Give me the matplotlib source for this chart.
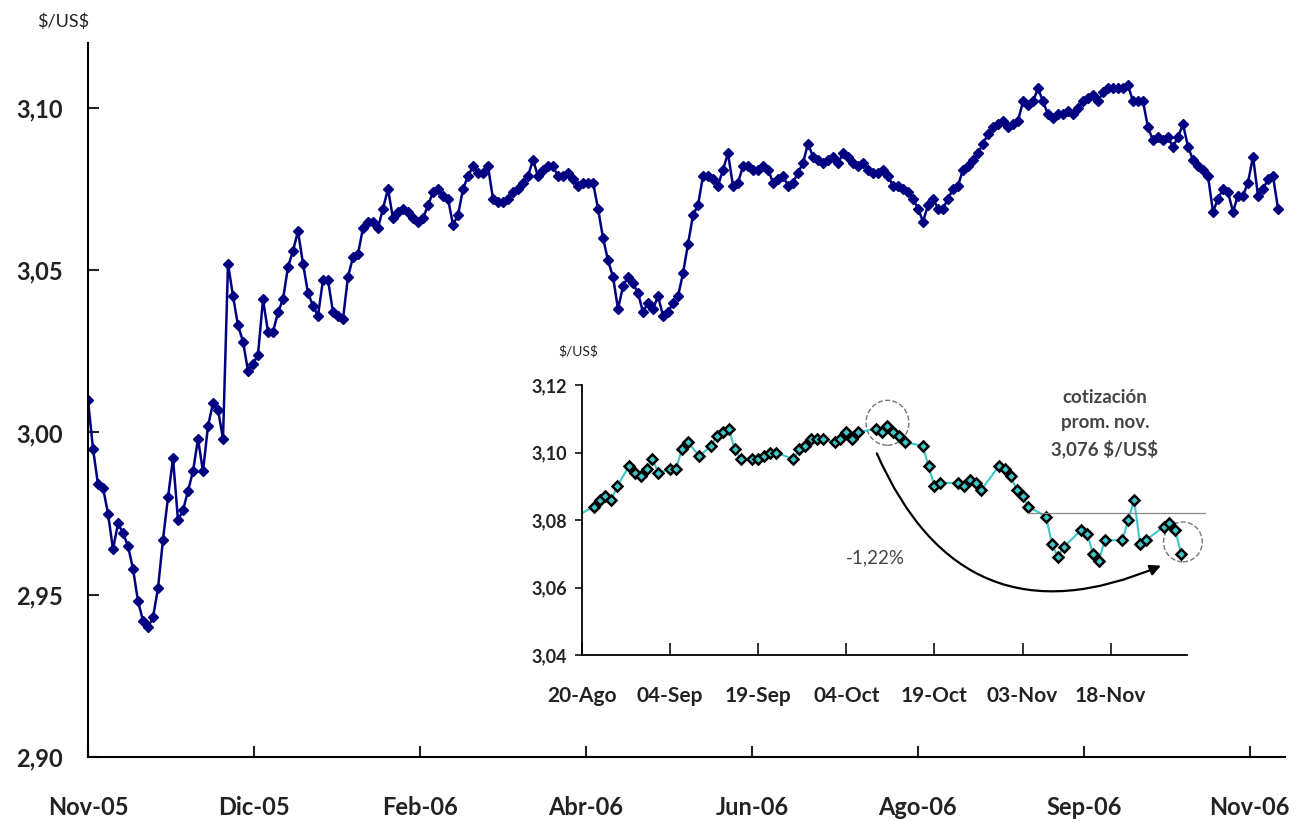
import numpy as np
import matplotlib
matplotlib.use("Agg")
from matplotlib import pyplot as plt
from matplotlib.patches import Ellipse
from matplotlib.ticker import FuncFormatter

plt.rcParams['font.family'] = ['Lato', 'DejaVu Sans']

# tipo de cambio diario, nov-05 a nov-06 ($/US$)
tc_diario = [
    3.010, 2.995, 2.984, 2.983, 2.975, 2.964, 2.972, 2.969, 2.965, 2.958,
    2.948, 2.942, 2.940, 2.943, 2.952, 2.967, 2.980, 2.992, 2.973, 2.976,
    2.982, 2.988, 2.998, 2.988, 3.002, 3.009, 3.007, 2.998, 3.052, 3.042,
    3.033, 3.028, 3.019, 3.021, 3.024, 3.041, 3.031, 3.031, 3.037, 3.041,
    3.051, 3.056, 3.062, 3.052, 3.043, 3.039, 3.036, 3.047, 3.047, 3.037,
    3.036, 3.035, 3.048, 3.054, 3.055, 3.063, 3.065, 3.065, 3.063, 3.069,
    3.075, 3.066, 3.068, 3.069, 3.068, 3.066, 3.065, 3.066, 3.070, 3.074,
    3.075, 3.073, 3.072, 3.064, 3.067, 3.075, 3.079, 3.082, 3.080, 3.080,
    3.082, 3.072, 3.071, 3.071, 3.072, 3.074, 3.075, 3.077, 3.079, 3.084,
    3.079, 3.081, 3.082, 3.082, 3.079, 3.079, 3.080, 3.078, 3.076, 3.077,
    3.077, 3.077, 3.069, 3.060, 3.053, 3.048, 3.038, 3.045, 3.048, 3.046,
    3.043, 3.037, 3.040, 3.038, 3.042, 3.036, 3.037, 3.040, 3.042, 3.049,
    3.058, 3.067, 3.070, 3.079, 3.079, 3.078, 3.076, 3.081, 3.086, 3.076,
    3.077, 3.082, 3.082, 3.081, 3.081, 3.082, 3.081, 3.077, 3.078, 3.079,
    3.076, 3.077, 3.080, 3.083, 3.089, 3.085, 3.084, 3.083, 3.084, 3.085,
    3.083, 3.086, 3.085, 3.083, 3.082, 3.083, 3.081, 3.080, 3.080, 3.081,
    3.079, 3.076, 3.076, 3.075, 3.074, 3.072, 3.069, 3.065, 3.070, 3.072,
    3.069, 3.069, 3.072, 3.075, 3.076, 3.081, 3.082, 3.084, 3.086, 3.089,
    3.092, 3.094, 3.095, 3.096, 3.094, 3.095, 3.096, 3.102, 3.101, 3.102,
    3.106, 3.102, 3.098, 3.097, 3.098, 3.098, 3.099, 3.098, 3.100, 3.102,
    3.103, 3.104, 3.102, 3.105, 3.106, 3.106, 3.106, 3.106, 3.107, 3.102,
    3.102, 3.102, 3.094, 3.090, 3.091, 3.090, 3.091, 3.088, 3.091, 3.095,
    3.088, 3.084, 3.082, 3.081, 3.079, 3.068, 3.072, 3.075, 3.074, 3.068,
    3.073, 3.073, 3.077, 3.085, 3.073, 3.075, 3.078, 3.079, 3.069,
]
meses = ['Nov-05', 'Dic-05', 'Feb-06', 'Abr-06', 'Jun-06', 'Ago-06', 'Sep-06', 'Nov-06']

# detalle 20-ago a fin de noviembre
fechas_det = [
    '2006-08-20', '2006-08-22', '2006-08-23', '2006-08-24', '2006-08-25', '2006-08-26',
    '2006-08-28', '2006-08-29', '2006-08-30', '2006-08-31', '2006-09-01', '2006-09-02',
    '2006-09-04', '2006-09-05', '2006-09-06', '2006-09-07', '2006-09-09', '2006-09-11',
    '2006-09-12', '2006-09-13', '2006-09-14', '2006-09-15', '2006-09-16', '2006-09-18',
    '2006-09-19', '2006-09-20', '2006-09-21', '2006-09-22', '2006-09-25', '2006-09-26',
    '2006-09-27', '2006-09-28', '2006-09-29', '2006-09-30', '2006-10-02', '2006-10-03',
    '2006-10-04', '2006-10-05', '2006-10-06', '2006-10-09', '2006-10-10', '2006-10-11',
    '2006-10-12', '2006-10-13', '2006-10-14', '2006-10-17', '2006-10-18', '2006-10-19',
    '2006-10-20', '2006-10-23', '2006-10-24', '2006-10-25', '2006-10-26', '2006-10-27',
    '2006-10-30', '2006-10-31', '2006-11-01', '2006-11-02', '2006-11-03', '2006-11-04',
    '2006-11-07', '2006-11-08', '2006-11-09', '2006-11-10', '2006-11-13', '2006-11-14',
    '2006-11-15', '2006-11-16', '2006-11-17', '2006-11-20', '2006-11-21', '2006-11-22',
    '2006-11-23', '2006-11-24', '2006-11-27', '2006-11-28', '2006-11-29', '2006-11-30',
]
tc_det = [
    3.082, 3.084, 3.086, 3.087, 3.086, 3.090, 3.096, 3.094, 3.093, 3.095,
    3.098, 3.094, 3.095, 3.095, 3.101, 3.103, 3.099, 3.102, 3.105, 3.106,
    3.107, 3.101, 3.098, 3.098, 3.098, 3.099, 3.100, 3.100, 3.098, 3.101,
    3.102, 3.104, 3.104, 3.104, 3.103, 3.104, 3.106, 3.104, 3.106, 3.107,
    3.106, 3.108, 3.106, 3.105, 3.103, 3.102, 3.096, 3.090, 3.091, 3.091,
    3.090, 3.092, 3.091, 3.089, 3.096, 3.095, 3.093, 3.089, 3.087, 3.084,
    3.081, 3.073, 3.069, 3.072, 3.077, 3.076, 3.070, 3.068, 3.074, 3.074,
    3.080, 3.086, 3.073, 3.074, 3.078, 3.079, 3.077, 3.070,
]
det_ticks = ['20-Ago', '04-Sep', '19-Sep', '04-Oct', '19-Oct', '03-Nov', '18-Nov']
prom_nov = 3.082

coma = FuncFormatter(lambda v, p: ('%.2f' % v).replace('.', ','))
navy = '#000080'
cyan = '#3cc8c8'

fig = plt.figure(figsize=(12.96, 8.22), dpi=100)

# grafico principal
ax = fig.add_axes([88/1296, 1 - 757/822, (1285 - 88)/1296, (757 - 43)/822])
x = np.arange(len(tc_diario))
ax.plot(x, tc_diario, color=navy, lw=1.8, marker='D', ms=5.5, mfc=navy, mec=navy)
ax.set_xlim(0, len(tc_diario) + 0.4)
ax.set_ylim(2.90, 3.12)
ax.set_yticks([2.90, 2.95, 3.00, 3.05, 3.10])
ax.yaxis.set_major_formatter(coma)
paso = (len(tc_diario) - 1) / 7.17
ax.set_xticks([paso * i for i in range(len(meses))])
ax.set_xticklabels(meses)
for s in ['top', 'right']:
    ax.spines[s].set_visible(False)
for s in ['left', 'bottom']:
    ax.spines[s].set_linewidth(1.5)
ax.tick_params(axis='both', direction='in', length=8, width=1.5, labelsize=17, colors='#222222')
ax.tick_params(axis='y', pad=18)
ax.tick_params(axis='x', pad=28)
for t in ax.get_xticklabels() + ax.get_yticklabels():
    t.set_fontweight('bold')
fig.text(63/1296, 1 - 22/822, r'\$/US\$', ha='center', va='center', fontsize=13, color='#222222')

# recuadro
ai = fig.add_axes([582/1296, 1 - 655/822, (1187 - 582)/1296, (655 - 385)/822])
fd = np.array(fechas_det, dtype='datetime64[D]')
ai.plot(fd, tc_det, color=cyan, lw=1.5, marker='D', ms=5.5, mfc=cyan, mec='black', mew=1.8,
        markevery=list(range(1, len(tc_det))))
f0 = fd[0]
ai.set_xlim(f0, f0 + np.timedelta64(103, 'D'))
ai.set_ylim(3.04, 3.12)
ai.set_yticks([3.04, 3.06, 3.08, 3.10, 3.12])
ai.yaxis.set_major_formatter(coma)
ai.set_xticks([f0 + np.timedelta64(15 * i, 'D') for i in range(len(det_ticks))])
ai.set_xticklabels(det_ticks)
for s in ['top', 'right']:
    ai.spines[s].set_visible(False)
for s in ['left', 'bottom']:
    ai.spines[s].set_linewidth(1.3)
ai.tick_params(axis='x', direction='in', length=9, width=1.3, pad=22, labelsize=15, colors='#222222')
ai.tick_params(axis='y', direction='out', length=5, width=1.3, pad=6, labelsize=13, colors='#222222')
for t in ai.get_xticklabels() + ai.get_yticklabels():
    t.set_fontweight('bold')
fig.text(578/1296, 1 - 351/822, r'\$/US\$', ha='center', va='center', fontsize=10, color='#222222')

# promedio noviembre
ai.plot([f0 + np.timedelta64(76, 'D'), f0 + np.timedelta64(106, 'D')], [prom_nov, prom_nov],
        color='#888888', lw=0.9, clip_on=False)
ai.text(f0 + np.timedelta64(89, 'D'), 3.1085, 'cotización\nprom. nov.\n3,076 \\$/US\\$',
        ha='center', va='center', fontsize=13.5, fontweight='bold', color='#444444', linespacing=1.55)

# circulos y flecha
dn = matplotlib.dates.date2num
ai.add_patch(Ellipse((dn(f0 + np.timedelta64(52, 'D')), 3.1088), 7.3, 0.0133,
                     fill=False, ls='--', ec='#777777', lw=1.0, clip_on=False))
ai.add_patch(Ellipse((dn(f0 + np.timedelta64(102, 'D')) + 0.3, 3.0735), 6.6, 0.0118,
                     fill=False, ls='--', ec='#777777', lw=1.0, clip_on=False))
ai.annotate('', xy=(f0 + np.timedelta64(99, 'D'), 3.0668), xytext=(f0 + np.timedelta64(50, 'D'), 3.1005),
            arrowprops=dict(arrowstyle='-|>', connectionstyle='arc3,rad=0.5', color='black', lw=1.6,
                            mutation_scale=16))
ai.text(f0 + np.timedelta64(50, 'D'), 3.0688, '-1,22%', ha='center', va='center', fontsize=13.5, color='#444444')

fig.savefig('out.png', dpi=100)
